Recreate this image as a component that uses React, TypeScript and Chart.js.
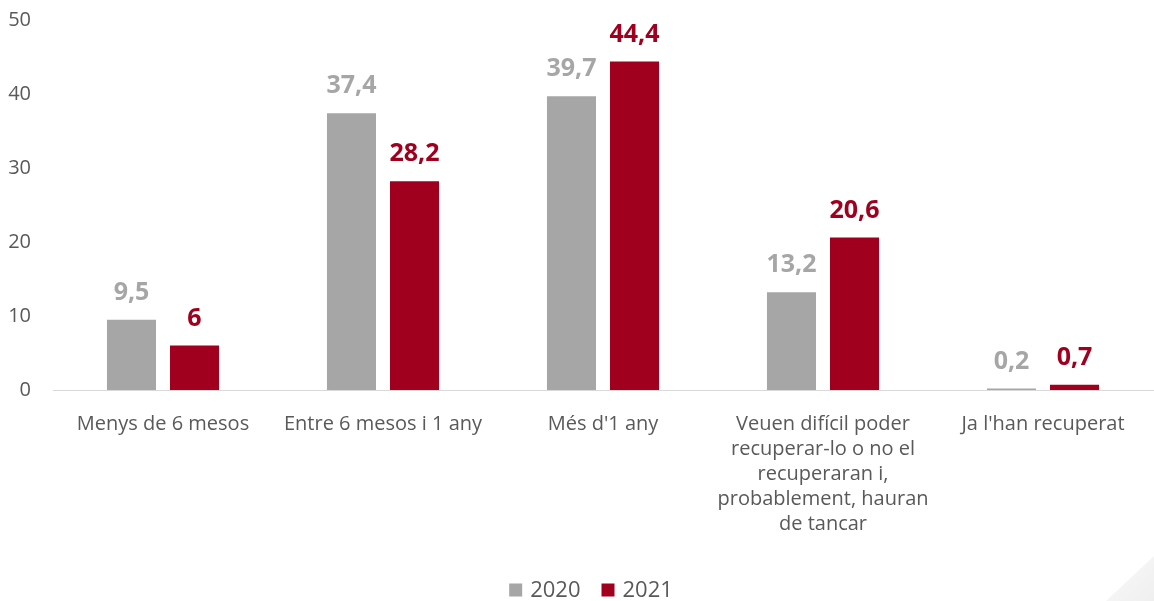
import React, { useEffect, useRef } from "react";
import { Chart, registerables } from "chart.js";

Chart.register(...registerables);

const categories: (string | string[])[] = [
  "Menys de 6 mesos",
  "Entre 6 mesos i 1 any",
  "Més d'1 any",
  ["Veuen difícil poder", "recuperar-lo o no el", "recuperaran i,", "probablement, hauran", "de tancar"],
  "Ja l'han recuperat",
];
const values2020 = [9.5, 37.4, 39.7, 13.2, 0.2];
const values2021 = [6, 28.2, 44.4, 20.6, 0.7];
const seriesLabels = ["2020", "2021"];
const yTicks = [0, 10, 20, 30, 40, 50];

const GRAY = "#a6a6a6";
const RED = "#a0001e";
const TEXT = "#595959";
const FONT = "'Open Sans', 'Noto Sans', sans-serif";

const fmt = (v: number) => String(v).replace(".", ",");

const labelPlugin = {
  id: "valueLabels",
  afterDatasetsDraw(chart: any) {
    const ctx = chart.ctx;
    ctx.save();
    chart.data.datasets.forEach((ds: any, i: number) => {
      const meta = chart.getDatasetMeta(i);
      meta.data.forEach((bar: any, j: number) => {
        ctx.fillStyle = ds.backgroundColor;
        ctx.font = `bold 25px ${FONT}`;
        ctx.textAlign = "center";
        ctx.textBaseline = "middle";
        ctx.fillText(fmt(ds.data[j]), bar.x, bar.y - 27);
      });
    });
    ctx.restore();
  },
  afterDraw(chart: any) {
    const ctx = chart.ctx;
    const w = chart.width, h = chart.height;
    ctx.save();
    // custom legend
    ctx.font = `22px ${FONT}`;
    ctx.textBaseline = "middle";
    ctx.textAlign = "left";
    const box = 13, gapIn = 8, gapOut = 21;
    const items = chart.data.datasets.map((ds: any) => ({
      text: ds.label,
      color: ds.backgroundColor,
      w: ctx.measureText(ds.label).width,
    }));
    const total = items.reduce((s: number, it: any) => s + box + gapIn + it.w, 0) + gapOut * (items.length - 1);
    let x = 591 - total / 2;
    const cy = 590;
    items.forEach((it: any) => {
      ctx.fillStyle = it.color;
      ctx.fillRect(x, cy - box / 2, box, box);
      x += box + gapIn;
      ctx.fillStyle = TEXT;
      ctx.fillText(it.text, x, cy + 1);
      x += it.w + gapOut;
    });
    // decorative corner
    const g = ctx.createLinearGradient(w, h, w - 30, h - 30);
    g.addColorStop(0, "#efefef");
    g.addColorStop(1, "#f6f6f6");
    ctx.fillStyle = g;
    ctx.beginPath();
    ctx.moveTo(w, h - 45);
    ctx.lineTo(w, h);
    ctx.lineTo(w - 48, h);
    ctx.closePath();
    ctx.fill();
    ctx.restore();
  },
};

export default function App() {
  const ref = useRef<HTMLCanvasElement>(null);
  useEffect(() => {
    document.body.style.margin = "0";
    const chart = new Chart(ref.current!, {
      type: "bar",
      data: {
        labels: categories,
        datasets: [
          {
            label: seriesLabels[0],
            data: values2020,
            backgroundColor: GRAY,
            categoryPercentage: 0.573,
            barPercentage: 0.778,
          },
          {
            label: seriesLabels[1],
            data: values2021,
            backgroundColor: RED,
            categoryPercentage: 0.573,
            barPercentage: 0.778,
          },
        ],
      },
      options: {
        animation: false,
        responsive: false,
        maintainAspectRatio: false,
        layout: { padding: { top: 20, left: 0, right: 1, bottom: 0 } },
        plugins: {
          tooltip: { enabled: false },
          legend: { display: false },
        },
        scales: {
          x: {
            grid: { display: false, drawTicks: false },
            border: { display: true, color: "#d9d9d9", width: 1 },
            ticks: {
              color: TEXT,
              font: { family: FONT, size: 20, lineHeight: 1.25 },
              padding: 22,
              maxRotation: 0,
              autoSkip: false,
            },
            afterFit(scale: any) {
              scale.height = 211;
            },
          },
          y: {
            min: 0,
            max: 50,
            afterBuildTicks(scale: any) {
              scale.ticks = yTicks.map((v) => ({ value: v }));
            },
            grid: { display: false, drawTicks: false },
            border: { display: false },
            ticks: {
              color: TEXT,
              font: { family: FONT, size: 20 },
              padding: 22,
            },
            afterFit(scale: any) {
              scale.width = 53;
              scale.paddingTop = 0;
              scale.paddingBottom = 0;
            },
          },
        },
      },
      plugins: [labelPlugin],
    } as any);
    return () => chart.destroy();
  }, []);
  return (
    <div style={{ position: "absolute", left: 0, top: 0, width: 1154, height: 601 }}>
      <canvas ref={ref} width={1154} height={601} />
    </div>
  );
}
